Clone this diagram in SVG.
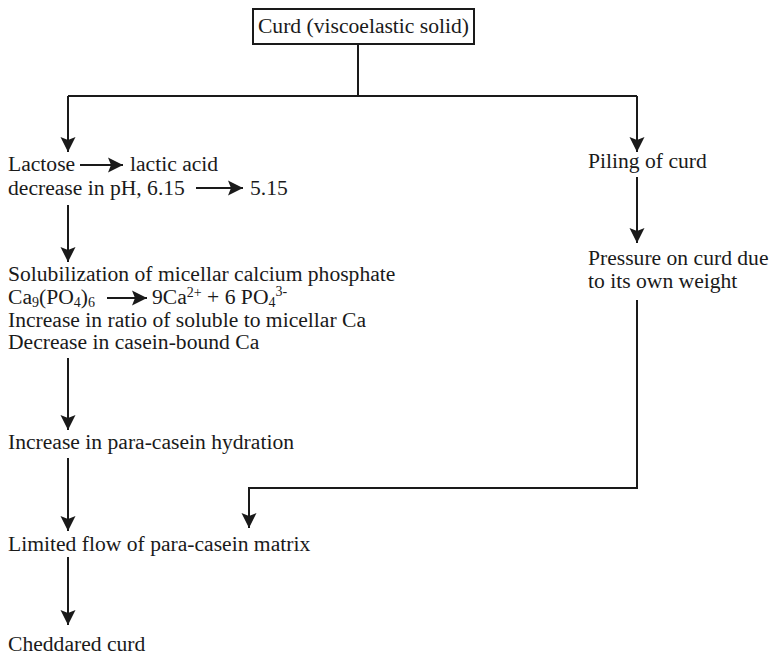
<svg xmlns="http://www.w3.org/2000/svg" width="772" height="655" viewBox="0 0 772 655">
<style>
text{font-family:"Liberation Serif","Times New Roman",serif;font-size:21.6px;fill:#1a1a1a}
.s{font-size:14px}
.ln{fill:none;stroke:#1a1a1a;stroke-width:2}
.box{fill:#fff;stroke:#1a1a1a;stroke-width:2}
</style>
<defs>
<marker id="ah2" markerUnits="userSpaceOnUse" markerWidth="16" markerHeight="16" viewBox="-15 -8 16 16" refX="0" refY="0" orient="auto">
<path d="M0,0 L-15,-7.5 L-12,0 L-15,7.5 Z" fill="#1a1a1a"/>
</marker>
</defs>
<g id="connectors">
<path class="ln" d="M358,44 V96"/>
<path class="ln" d="M68,96 H637"/>
<path class="ln" d="M68,96 V152" marker-end="url(#ah2)"/>
<path class="ln" d="M637,96 V152" marker-end="url(#ah2)"/>
<path class="ln" d="M68,205 V262" marker-end="url(#ah2)"/>
<path class="ln" d="M637,177 V243" marker-end="url(#ah2)"/>
<path class="ln" d="M68,358 V430" marker-end="url(#ah2)"/>
<path class="ln" d="M68,458 V531" marker-end="url(#ah2)"/>
<path class="ln" d="M68,557 V625" marker-end="url(#ah2)"/>
<path class="ln" d="M637,300 V488 H249 V528" marker-end="url(#ah2)"/>
<path class="ln" d="M80,165 H123" marker-end="url(#ah2)"/>
<path class="ln" d="M196,188 H243" marker-end="url(#ah2)"/>
<path class="ln" d="M107,298 H147" marker-end="url(#ah2)"/>
</g>
<g id="curd">
<rect class="box" x="253" y="9" width="221" height="35"/>
<text x="363.5" y="33" text-anchor="middle">Curd (viscoelastic solid)</text>
</g>
<g id="lactose">
<text x="8" y="171">Lactose</text>
<text x="130" y="171">lactic acid</text>
<text x="8" y="195">decrease in pH, 6.15</text>
<text x="250" y="195">5.15</text>
</g>
<g id="solubilization">
<text x="8" y="281">Solubilization of micellar calcium phosphate</text>
<text x="8" y="304">Ca<tspan class="s" dy="3">9</tspan><tspan dy="-3">(PO</tspan><tspan class="s" dy="3">4</tspan><tspan dy="-3">)</tspan><tspan class="s" dy="3">6</tspan></text>
<text x="152" y="304">9Ca<tspan class="s" dy="-7">2+</tspan><tspan dy="7"> + 6 PO</tspan><tspan class="s" dy="3">4</tspan><tspan class="s" dy="-11">3-</tspan></text>
<text x="8" y="327">Increase in ratio of soluble to micellar Ca</text>
<text x="8" y="349">Decrease in casein-bound Ca</text>
</g>
<g id="hydration">
<text x="8" y="449">Increase in para-casein hydration</text>
</g>
<g id="limited">
<text x="8" y="551">Limited flow of para-casein matrix</text>
</g>
<g id="cheddared">
<text x="8" y="651">Cheddared curd</text>
</g>
<g id="piling">
<text x="588" y="168">Piling of curd</text>
</g>
<g id="pressure">
<text x="588" y="265">Pressure on curd due</text>
<text x="588" y="288">to its own weight</text>
</g>
</svg>
